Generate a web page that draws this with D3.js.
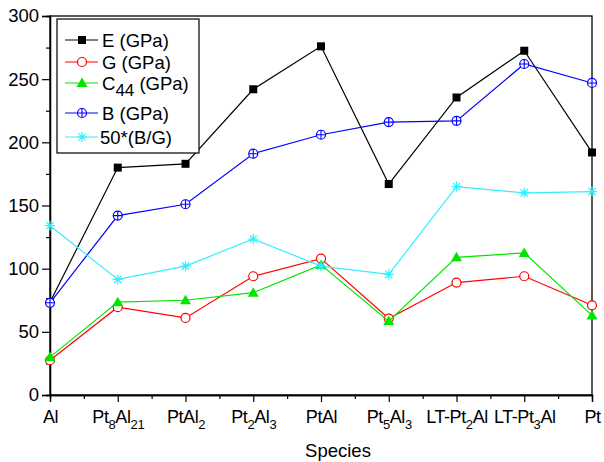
<!DOCTYPE html>
<html>
<head>
<meta charset="utf-8">
<script src="https://cdn.jsdelivr.net/npm/d3@7"></script>
<style>
  body { margin: 0; background: #fff; }
  text { font-family: "Liberation Sans", Arial, sans-serif; fill: #000; }
</style>
</head>
<body>
<div class="chart"></div>
<script>

// categories, "_{n}" marks a subscript
var species = ["Al", "Pt_{8}Al_{21}", "PtAl_{2}", "Pt_{2}Al_{3}", "PtAl", "Pt_{5}Al_{3}", "LT-Pt_{2}Al", "LT-Pt_{3}Al", "Pt"];

var youngE = [73.5, 180, 183, 242, 276, 167, 235.5, 272.5, 192];
var shearG = [27.5, 69.5, 61, 94, 108, 60.5, 89, 94, 71];
var c44    = [30, 73.5, 75, 81, 103, 58.5, 109, 112.5, 63];
var bulkB  = [73, 142, 151, 191, 206, 216, 217, 262, 247];
var ratioBG = [134, 91.5, 102, 123.5, 102, 95.5, 165, 160, 161];

var yTicks = [0, 50, 100, 150, 200, 250, 300];

var seriesNames = ["E (GPa)", "G (GPa)", "C_{44} (GPa)", "B (GPa)", "50*(B/G)"];
var seriesData = [youngE, shearG, c44, bulkB, ratioBG];
var seriesColors = ["#000000", "#ff0000", "#00e600", "#0000ff", "#33eeff"];
var seriesSymbols = ["square", "circle", "triangle", "crosscircle", "star"];

var width = 604, height = 462;
var margin = {top: 16, right: 12, bottom: 67, left: 50};

var svg = d3.select(".chart")
  .append("svg")
    .attr("width", width)
    .attr("height", height);

var x = d3.scaleLinear()
  .domain([0, species.length - 1])
  .range([margin.left, width - margin.right]);

var y = d3.scaleLinear()
  .domain([0, 300])
  .range([height - margin.bottom, margin.top]);

// split "Pt_{8}Al_{21}" into pieces
function parts(label) {
  var out = [];
  var re = /_\{([^}]*)\}|([^_]+)/g, m;
  while ((m = re.exec(label)) !== null) {
    if (m[1] !== undefined) out.push({t: m[1], sub: true});
    else out.push({t: m[2], sub: false});
  }
  return out;
}

function writeRich(textSel, label, size, subSize, shift) {
  var prevSub = false;
  parts(label).forEach(function(p) {
    var dy = 0;
    if (p.sub && !prevSub) dy = shift;
    if (!p.sub && prevSub) dy = -shift;
    textSel.append("tspan")
      .attr("dy", dy)
      .style("font-size", (p.sub ? subSize : size) + "px")
      .text(p.t);
    prevSub = p.sub;
  });
}

// frame
svg.append("rect")
  .attr("x", x.range()[0])
  .attr("y", y.range()[1])
  .attr("width", x.range()[1] - x.range()[0])
  .attr("height", y.range()[0] - y.range()[1])
  .attr("fill", "none")
  .attr("stroke", "#000")
  .attr("stroke-width", 1.3);

// y axis
var gy = svg.append("g")
  .attr("transform", "translate(" + margin.left + ",0)")
  .call(d3.axisLeft(y).tickValues(yTicks).tickSize(8).tickPadding(3));

svg.append("g")
  .attr("transform", "translate(" + margin.left + ",0)")
  .call(d3.axisLeft(y).tickValues(d3.range(25, 300, 50)).tickSize(4).tickFormat(""));

// x axis
var gx = svg.append("g")
  .attr("transform", "translate(0," + y.range()[0] + ")")
  .call(d3.axisBottom(x).tickValues(d3.range(species.length)).tickSize(7).tickFormat(""));

svg.append("g")
  .attr("transform", "translate(0," + y.range()[0] + ")")
  .call(d3.axisBottom(x).tickValues(d3.range(0.5, species.length - 1, 1)).tickSize(4).tickFormat(""));

svg.selectAll(".domain").attr("stroke", "#000").attr("stroke-width", 1.3);
svg.selectAll(".tick line").attr("stroke", "#000").attr("stroke-width", 1.2);

gy.selectAll(".tick text")
  .style("font-size", "18.5px")
  .style("font-family", "Liberation Sans, Arial, sans-serif")
  .attr("fill", "#000");

gx.selectAll(".tick").each(function(d) {
  var t = d3.select(this).append("text")
    .attr("y", 28)
    .attr("text-anchor", "middle")
    .style("letter-spacing", "-0.4px");
  writeRich(t, species[d], 18, 13, 6);
});

svg.append("text")
  .attr("x", 338)
  .attr("y", 457)
  .attr("text-anchor", "middle")
  .style("font-size", "18.5px")
  .text("Species");

// symbols
function drawSymbol(g, type, color, cx, cy) {
  if (type === "square") {
    g.append("rect").attr("x", cx - 4).attr("y", cy - 4).attr("width", 8).attr("height", 8)
      .attr("fill", color);
  } else if (type === "circle") {
    g.append("circle").attr("cx", cx).attr("cy", cy).attr("r", 4.5)
      .attr("fill", "#fff").attr("stroke", color).attr("stroke-width", 1.2);
  } else if (type === "triangle") {
    g.append("path")
      .attr("d", "M" + cx + "," + (cy - 5.5) + "L" + (cx + 5.5) + "," + (cy + 4) + "L" + (cx - 5.5) + "," + (cy + 4) + "Z")
      .attr("fill", color);
  } else if (type === "crosscircle") {
    g.append("circle").attr("cx", cx).attr("cy", cy).attr("r", 4.5)
      .attr("fill", "#fff").attr("stroke", color).attr("stroke-width", 1.2);
    g.append("path")
      .attr("d", "M" + (cx - 4.5) + "," + cy + "H" + (cx + 4.5) + "M" + cx + "," + (cy - 4.5) + "V" + (cy + 4.5))
      .attr("stroke", color).attr("stroke-width", 1.1);
  } else if (type === "star") {
    var r = 5, k = r * 0.72;
    g.append("path")
      .attr("d", "M" + (cx - r) + "," + cy + "H" + (cx + r) +
                 "M" + cx + "," + (cy - r) + "V" + (cy + r) +
                 "M" + (cx - k) + "," + (cy - k) + "L" + (cx + k) + "," + (cy + k) +
                 "M" + (cx - k) + "," + (cy + k) + "L" + (cx + k) + "," + (cy - k))
      .attr("stroke", color).attr("stroke-width", 1.2);
  }
}

var line = d3.line()
  .x(function(d, i) { return x(i); })
  .y(function(d) { return y(d); });

var plot = svg.append("g");

for (var s = 0; s < seriesData.length; s++) {
  var g = plot.append("g");
  g.append("path")
    .datum(seriesData[s])
    .attr("d", line)
    .attr("fill", "none")
    .attr("stroke", seriesColors[s])
    .attr("stroke-width", 1.2);
  for (var i = 0; i < seriesData[s].length; i++) {
    drawSymbol(g, seriesSymbols[s], seriesColors[s], x(i), y(seriesData[s][i]));
  }
}

// legend
var legend = svg.append("g");
legend.append("rect")
  .attr("x", 57).attr("y", 19)
  .attr("width", 142).attr("height", 134)
  .attr("fill", "#fff")
  .attr("stroke", "#000")
  .attr("stroke-width", 1.2);

var legendY = [40, 62, 83, 113, 137];
for (var s = 0; s < seriesNames.length; s++) {
  var ly = legendY[s];
  legend.append("line")
    .attr("x1", 65).attr("x2", 98)
    .attr("y1", ly).attr("y2", ly)
    .attr("stroke", seriesColors[s])
    .attr("stroke-width", 1.2);
  drawSymbol(legend, seriesSymbols[s], seriesColors[s], 82, ly);
  var t = legend.append("text")
    .attr("x", s === 4 ? 100 : 102)
    .attr("y", ly + 7);
  writeRich(t, seriesNames[s], 18.5, 17, 6);
}

</script>
</body>
</html>
